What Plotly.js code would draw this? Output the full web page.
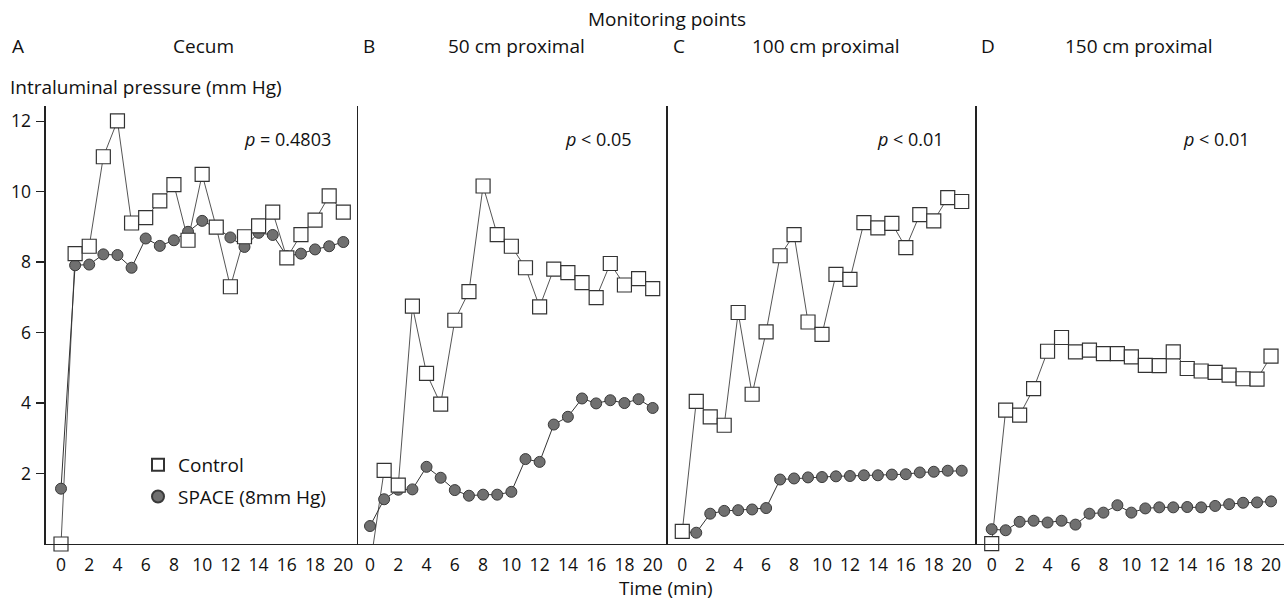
<!DOCTYPE html>
<html>
<head>
<meta charset="utf-8">
<script src="https://cdn.plot.ly/plotly-3.0.1.min.js"></script>
<style>html,body{margin:0;padding:0;background:#fff;}#chart{width:1284px;height:600px;}</style>
</head>
<body>
<div id="chart"></div>
<script>
// Time points (min)
const time = [0,1,2,3,4,5,6,7,8,9,10,11,12,13,14,15,16,17,18,19,20];

// Panel A – Cecum
const cecumControl = [0.0,8.24,8.45,10.99,12.01,9.11,9.26,9.74,10.20,8.62,10.49,8.99,7.30,8.72,9.03,9.42,8.12,8.78,9.19,9.88,9.42];
const cecumSpace   = [1.57,7.91,7.93,8.22,8.20,7.84,8.67,8.46,8.62,8.86,9.17,8.98,8.70,8.43,8.83,8.77,8.17,8.24,8.36,8.45,8.57];

// Panel B – 50 cm proximal
const p50Control = [-0.65,2.09,1.67,6.75,4.84,3.97,6.35,7.16,10.16,8.78,8.45,7.84,6.73,7.80,7.70,7.42,6.99,7.96,7.35,7.53,7.25];
const p50Space   = [0.51,1.27,1.54,1.55,2.19,1.88,1.53,1.37,1.40,1.40,1.48,2.41,2.33,3.39,3.61,4.13,3.99,4.08,4.00,4.11,3.86];

// Panel C – 100 cm proximal
const p100Control = [0.36,4.05,3.61,3.37,6.57,4.25,6.02,8.18,8.78,6.30,5.95,7.65,7.51,9.12,8.97,9.10,8.41,9.35,9.17,9.83,9.72];
const p100Space   = [0.35,0.32,0.86,0.94,0.96,0.98,1.02,1.83,1.86,1.89,1.90,1.92,1.93,1.95,1.95,1.97,1.98,2.03,2.05,2.08,2.08];

// Panel D – 150 cm proximal
const p150Control = [0.01,3.80,3.66,4.41,5.47,5.86,5.45,5.50,5.40,5.40,5.31,5.07,5.06,5.45,4.98,4.91,4.87,4.79,4.69,4.68,5.33];
const p150Space   = [0.42,0.39,0.63,0.66,0.61,0.66,0.55,0.86,0.89,1.10,0.89,1.01,1.04,1.04,1.05,1.04,1.08,1.13,1.17,1.18,1.21];

const panelLetters = ['A','B','C','D'];
const panelNames = ['Cecum','50 cm proximal','100 cm proximal','150 cm proximal'];
const pTexts = ['<i>p</i> = 0.4803','<i>p</i> < 0.05','<i>p</i> < 0.01','<i>p</i> < 0.01'];
const seriesNames = ['Control','SPACE (8mm Hg)'];
const xTickVals = [0,2,4,6,8,10,12,14,16,18,20];
const yTickVals = [2,4,6,8,10,12];

const controls = [cecumControl,p50Control,p100Control,p150Control];
const spaces = [cecumSpace,p50Space,p100Space,p150Space];

const W = 1284, H = 600;
// panel pixel bounds
const bounds = [[45.7,358.3],[358.3,667.5],[667.5,976.7],[976.7,1284]];
const xRanges = [[-1.084,21.063],[-0.828,21.047],[-1.059,21.074],[-1.074,20.93]];
const yDomain = [1-544/H, 1-106/H];
const yRange = [0,12.43];

const FONT = 'Open Sans, Noto Sans, sans-serif';
const traces = [];
const layout = {
  width: W, height: H,
  margin: {l:0,r:0,t:0,b:0},
  paper_bgcolor:'#fff', plot_bgcolor:'rgba(0,0,0,0)',
  font:{family:FONT, size:17, color:'#111'},
  showlegend:true,
  legend:{x:138/W, y:1-446/H, xanchor:'left', yanchor:'top', bgcolor:'rgba(0,0,0,0)',
          font:{size:19,color:'#111'}, traceorder:'grouped', tracegroupgap:4, itemsizing:'constant'},
  annotations:[], shapes:[]
};

for (let i=0;i<4;i++){
  const xa = i===0?'x':'x'+(i+1);
  const ya = i===0?'y':'y'+(i+1);
  const xk = i===0?'xaxis':'xaxis'+(i+1);
  const yk = i===0?'yaxis':'yaxis'+(i+1);
  layout[xk] = {domain:[bounds[i][0]/W, bounds[i][1]/W], range:xRanges[i], anchor:ya,
    showgrid:false, zeroline:false, showline:true, linecolor:'#222', linewidth:1.3,
    ticks:'', tickvals:xTickVals, ticklabelstandoff:5, tickfont:{size:17.5,color:'#111'}, fixedrange:true};
  layout[yk] = {domain:yDomain, range:yRange, anchor:xa,
    showgrid:false, zeroline:false, showline:true, linecolor:'#222', linewidth:1.3,
    ticks: i===0?'outside':'', ticklen:8, tickcolor:'#222', tickwidth:1.3,
    tickvals: yTickVals, showticklabels: i===0, ticklabelstandoff:2,
    tickfont:{size:17.5,color:'#111'}, fixedrange:true};
  const clip = (i===1);
  // lines
  traces.push({x:time, y:controls[i], xaxis:xa, yaxis:ya, mode:'lines', showlegend:false, hoverinfo:'skip',
    line:{color:'#555', width:1}});
  traces.push({x:time, y:spaces[i], xaxis:xa, yaxis:ya, mode:'lines', showlegend:false, hoverinfo:'skip',
    line:{color:'#333', width:1}});
  // markers
  traces.push({x:time, y:spaces[i], xaxis:xa, yaxis:ya, mode:'markers', name:seriesNames[1],
    legendgroup:'space', legendrank:2, showlegend:i===0, cliponaxis:clip,
    marker:{symbol:'circle', size:11, color:'#707070', line:{color:'#3a3a3a', width:1}}});
  traces.push({x:time, y:controls[i], xaxis:xa, yaxis:ya, mode:'markers', name:seriesNames[0],
    legendgroup:'control', legendrank:1, showlegend:i===0, cliponaxis:clip,
    marker:{symbol:'square', size:14, color:'#fff', line:{color:'#333', width:1.2}}});
}

const ann = layout.annotations;
function addText(text, xpx, ypx, xanchor, size, extra){
  ann.push(Object.assign({text:text, xref:'paper', yref:'paper', x:xpx/W, y:1-ypx/H,
    xanchor:xanchor, yanchor:'middle', showarrow:false, font:{size:size||19, color:'#111', family:FONT}}, extra||{}));
}
addText('Monitoring points', 667, 19, 'center');
const letterX = [10,361,671,979];
const nameX = [203,516,826,1139];
for (let i=0;i<4;i++){
  addText(panelLetters[i], letterX[i], 46, 'left');
  addText(panelNames[i], nameX[i], 46, 'center');
}
addText('Intraluminal pressure (mm Hg)', 8, 87, 'left');
const pRight = [333,634,946,1252];
for (let i=0;i<4;i++) addText(pTexts[i], pRight[i], 139, 'right', 18);
addText('Time (min)', 666, 588, 'center');

Plotly.newPlot('chart', traces, layout, {displayModeBar:false, staticPlot:true});
</script>
</body>
</html>
